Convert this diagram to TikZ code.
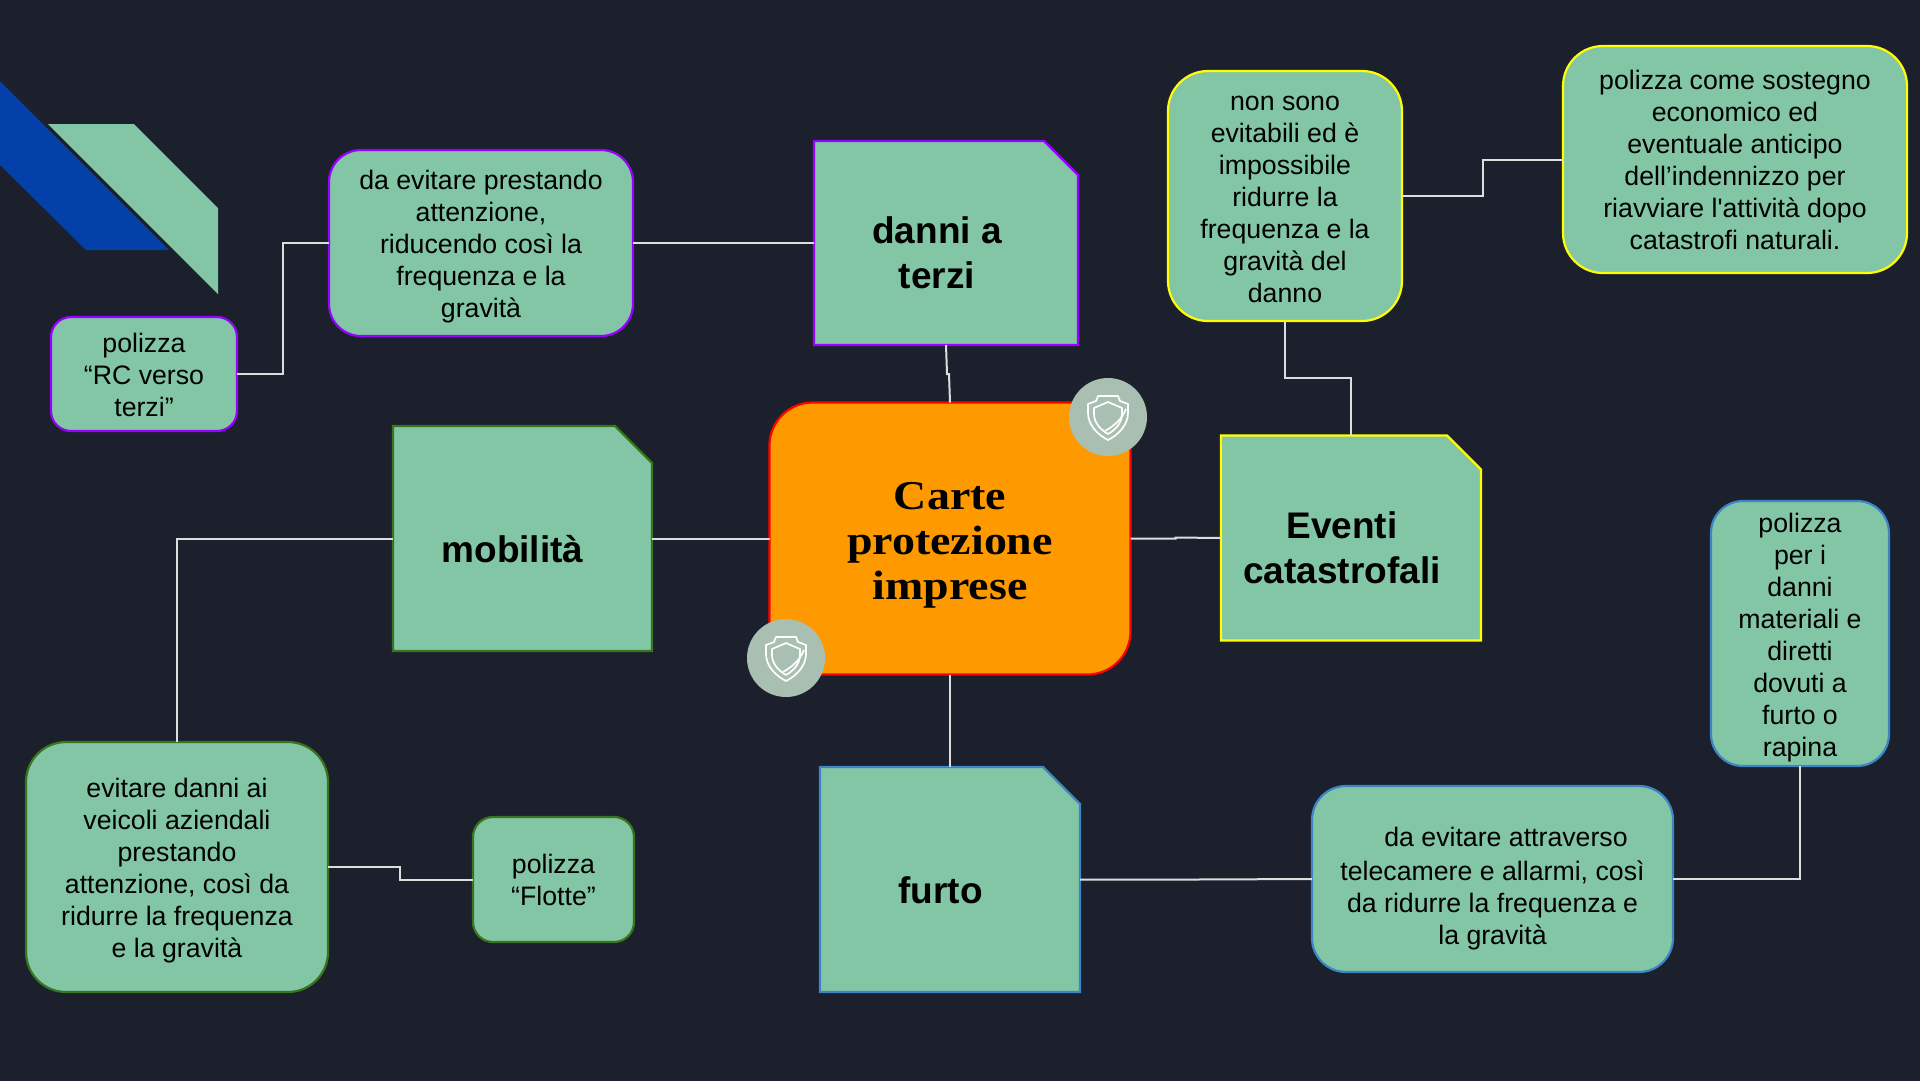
\documentclass[tikz,border=0pt]{standalone}
\usepackage{fontspec}
\setmainfont{Liberation Sans}
\newfontfamily\titlefont[FakeStretch=1.12]{Liberation Serif}
\newfontfamily\plainq{Liberation Sans}
\definecolor{bgc}{HTML}{1B202C}
\definecolor{mint}{HTML}{82C6A6}
\definecolor{orangec}{HTML}{FF9900}
\definecolor{purp}{HTML}{9900FF}
\definecolor{yell}{HTML}{FFFF00}
\definecolor{grn}{HTML}{38761D}
\definecolor{bluc}{HTML}{3D85C6}
\definecolor{royal}{HTML}{0340A8}
\definecolor{sage}{HTML}{A9BFB2}
\definecolor{wirec}{HTML}{DDDDDD}
\newcommand{\dn}[1]{\rule{0pt}{\dimexpr 20pt+2\dimexpr #1pt\relax\relax}}
\tikzset{
  body/.style={font=\fontsize{26.7}{32}\selectfont, align=center, text=black},
  roundbox/.style={body, draw, fill=mint, line width=2.2pt, inner sep=0pt, outer sep=0pt},
  foldanchor/.style={inner sep=0pt, outer sep=0pt},
  foldshape/.style={draw, fill=mint, line width=2.2pt, line join=miter},
  bigtext/.style={font=\fontsize{37}{45}\selectfont\bfseries, align=center, text=black},
  wire/.style={draw=wirec, line width=2pt},
  badge/.style={circle, fill=sage, minimum size=78pt, inner sep=0pt},
  shieldline/.style={draw=white, line width=1.7pt, line join=round},
}
\newcommand{\foldnote}[3]{%
  \draw[foldshape, draw=#2] (#1.south west) -- (#1.north west)
    -- ([xshift=-#3 pt]#1.north east) -- ([yshift=-#3 pt]#1.north east)
    -- (#1.south east) -- cycle;}
\newcommand{\shieldicon}[1]{%
  \begin{scope}[shift={(#1)}]
    \draw[shieldline] (-10,-21) -- (10,-21) -- (12,-16) -- (20,-13) -- (20,-4)
      .. controls (20,8) and (10,18) .. (0,23)
      .. controls (-10,18) and (-20,8) .. (-20,-4)
      -- (-20,-13) -- (-12,-16) -- cycle;
    \draw[shieldline] (0,-15) -- (14,-9) -- (14,-3)
      .. controls (14,6) and (7,13) .. (0,17)
      .. controls (-7,13) and (-14,6) .. (-14,-3)
      -- (-14,-9) -- cycle;
    \draw[shieldline] (-3,14) .. controls (6,9) and (14,2) .. (18,-8);
  \end{scope}}
\begin{document}
\begin{tikzpicture}[x=1pt,y=-1pt]
\useasboundingbox (0,0) rectangle (1920,1080);
\fill[bgc] (-6,-6) rectangle (1926,1086);
% decorative ribbons
\fill[royal] (0,81) -- (169,250) -- (86,250) -- (0,165) -- cycle;
\fill[mint] (48,124) -- (134,124) -- (218,208) -- (218,294) -- cycle;
% fold-corner anchors
\node[foldanchor, minimum width=264pt, minimum height=204pt] (danni) at (946,243) {};
\node[foldanchor, minimum width=259pt, minimum height=225pt] (mob) at (522.5,538.5) {};
\node[foldanchor, minimum width=260pt, minimum height=205pt] (event) at (1351,538) {};
\node[foldanchor, minimum width=260pt, minimum height=225pt] (furto) at (950,879.5) {};
% round boxes
\node[roundbox, draw=red, fill=orangec, rounded corners=43pt, minimum width=361pt, minimum height=272pt,
      font=\titlefont\fontsize{41}{45}\selectfont\bfseries] (core) at (950,538.5) {\rule{0pt}{40pt}Carte\\protezione\\imprese};
\node[roundbox, draw=purp, rounded corners=20pt, minimum width=186pt, minimum height=114pt] (rc) at (144,374) {\dn{1}polizza\\“RC verso\\terzi”};
\node[roundbox, draw=purp, rounded corners=32pt, minimum width=304pt, minimum height=186pt] (prest) at (481,243) {\dn{3.5}da evitare prestando\\attenzione,\\riducendo così la\\frequenza e la\\gravità};
\node[roundbox, draw=yell, rounded corners=40pt, minimum width=234pt, minimum height=250pt] (nons) at (1285,196) {\dn{1}non sono\\evitabili ed è\\impossibile\\ridurre la\\frequenza e la\\gravità del\\danno};
\node[roundbox, draw=yell, rounded corners=40pt, minimum width=344pt, minimum height=227pt] (sost) at (1735,159.5) {polizza come sostegno\\economico ed\\eventuale anticipo\\dell’indennizzo per\\riavviare l{\plainq '}attività dopo\\catastrofi naturali.};
\node[roundbox, draw=bluc, rounded corners=32pt, minimum width=178pt, minimum height=265pt] (dann) at (1800,633.5) {\dn{3.5}polizza\\per i\\danni\\materiali e\\diretti\\dovuti a\\furto o\\rapina};
\node[roundbox, draw=bluc, rounded corners=34pt, minimum width=361pt, minimum height=186pt] (tele) at (1492.5,879) {\dn{9.5}\hspace*{27pt}da evitare attraverso\\[2.5pt]telecamere e allarmi, così\\da ridurre la frequenza e\\la gravità};
\node[roundbox, draw=grn, rounded corners=40pt, minimum width=302pt, minimum height=250pt] (veic) at (177,867) {\dn{3.5}evitare danni ai\\veicoli aziendali\\prestando\\attenzione, così da\\ridurre la frequenza\\e la gravità};
\node[roundbox, draw=grn, rounded corners=20pt, minimum width=161pt, minimum height=125pt] (flot) at (553.5,879.5) {polizza\\“Flotte”};
% fold-corner shapes
\foldnote{danni}{purp}{34}
\foldnote{mob}{grn}{37}
\foldnote{event}{yell}{34}
\foldnote{furto}{bluc}{37}
\node[bigtext] (dannitxt) at (937,253) {danni a\\terzi};
\node[bigtext] (mobtxt) at (512.5,549) {mobilità};
\node[bigtext] (eventxt) at (1342,548) {Eventi\\catastrofali};
\node[bigtext] (furtotxt) at (940.5,890) {furto};
% connectors
\coordinate (j1) at (283,374);
\draw[wire] (rc.east) -- (j1) |- (prest.west);
\draw[wire] (prest.east) -- (danni.west);
\draw[wire] (danni.south) -- ++(1,29) -- ++(2,0) -- (core.north);
\draw[wire] (mob.east) -- (core.west);
\draw[wire] (core.east) -- ++(45,0) -- ++(0,-1) -- (event.west);
\draw[wire] (core.south) -- (furto.north);
\coordinate (j2) at (1483,196);
\draw[wire] (nons.east) -- (j2) |- (sost.west);
\coordinate (j3) at (1285,378);
\coordinate (j4) at (1351,378);
\draw[wire] (nons.south) -- (j3) -- (j4) -- (event.north);
\draw[wire] (furto.east) -- ++(116,0) -- (tele.west);
\draw[wire] (tele.east) -| (dann.south);
\draw[wire] (mob.west) -| (veic.north);
\coordinate (j5) at (400,867);
\coordinate (j6) at (400,879.5);
\draw[wire] (veic.east) -- (j5) -- (j6) -- (flot.west);
% badges
\node[badge] (b1) at (1108,417) {};
\node[badge] (b2) at (786,658) {};
\shieldicon{b1}
\shieldicon{b2}
\end{tikzpicture}
\end{document}
